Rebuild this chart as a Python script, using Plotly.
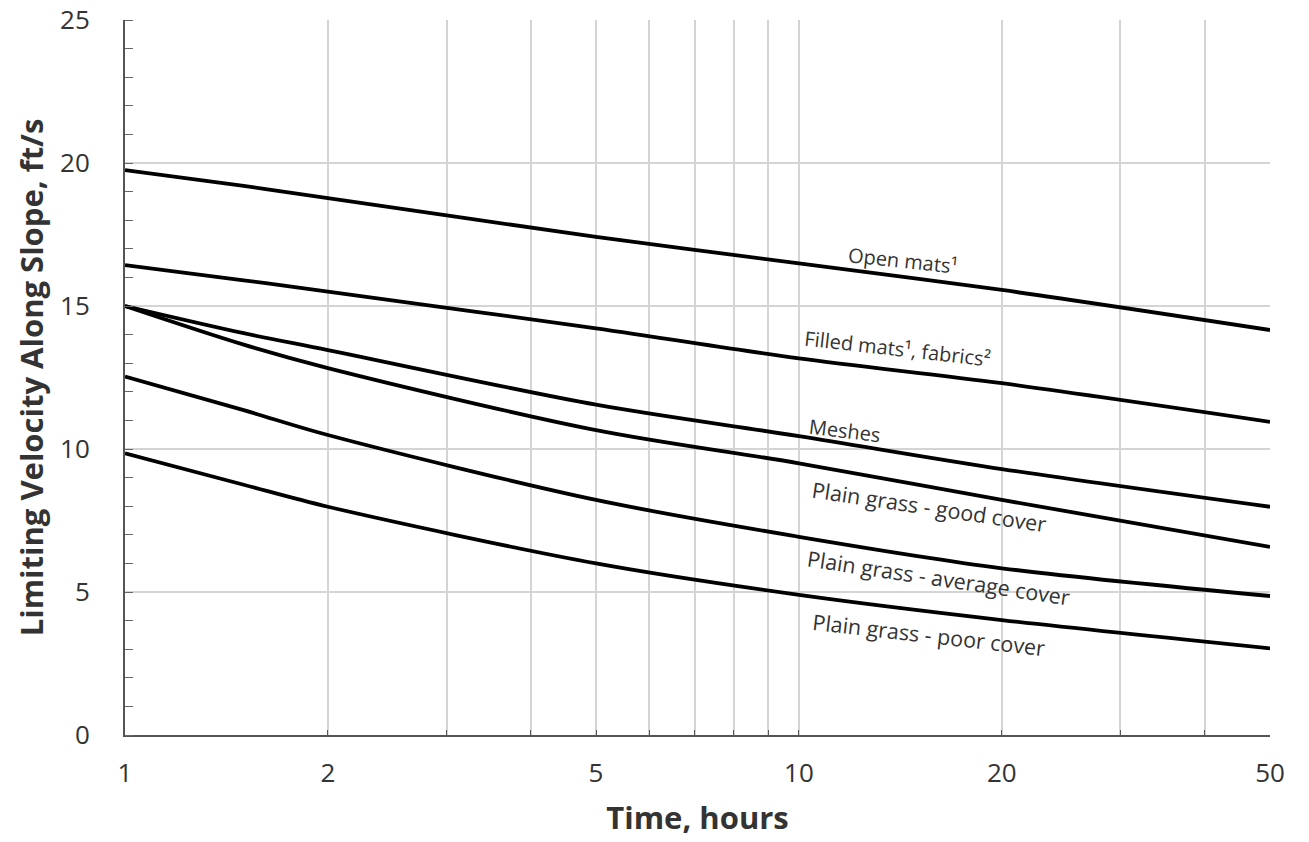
import math
import plotly.graph_objects as go

# Time, hours
time_h = [1, 1.5, 2, 5, 10, 20, 50]

open_mats = [19.75, 19.2, 18.77, 17.42, 16.49, 15.56, 14.16]
filled_mats = [16.43, 15.9, 15.5, 14.22, 13.17, 12.30, 10.95]
meshes = [15.0, 14.05, 13.46, 11.55, 10.45, 9.3, 7.98]
grass_good = [15.0, 13.65, 12.83, 10.66, 9.5, 8.22, 6.58]
grass_average = [12.53, 11.36, 10.49, 8.22, 6.93, 5.83, 4.86]
grass_poor = [9.85, 8.75, 7.98, 6.0, 4.90, 4.02, 3.03]

series = [
    ("Open mats¹", open_mats),
    ("Filled mats¹, fabrics²", filled_mats),
    ("Meshes", meshes),
    ("Plain grass - good cover", grass_good),
    ("Plain grass - average cover", grass_average),
    ("Plain grass - poor cover", grass_poor),
]

# label anchors (x in hours, y in ft/s), text angles and sizes
label_x = [14.27, 14.0, 11.7, 15.6, 16.1, 15.6]
label_y = [16.6, 13.5, 10.66, 8.0, 5.5, 3.5]
label_angle = [6, 6.5, 7, 8.5, 8.5, 6.5]
label_size = [20, 20, 20, 21.5, 21.5, 21.5]

x_tickvals = [1, 2, 3, 4, 5, 6, 7, 8, 9, 10, 20, 30, 40, 50]
x_ticktext = ["1", "2", "", "", "5", "", "", "", "", "10", "20", "", "", "50"]
y_tickvals = [0, 5, 10, 15, 20, 25]

FONT = "Open Sans"
TXT = "#333"

fig = go.Figure()
for name, vals in series:
    fig.add_trace(go.Scatter(
        x=time_h, y=vals, mode="lines", name=name,
        line=dict(color="black", width=3.8, shape="spline", smoothing=0.9),
        showlegend=False,
    ))

for (name, _), lx, ly, ang, sz in zip(series, label_x, label_y, label_angle, label_size):
    fig.add_annotation(
        x=math.log10(lx), y=ly, xref="x", yref="y", text=name, showarrow=False,
        textangle=ang, font=dict(size=sz, color=TXT, family=FONT),
    )

fig.update_layout(
    width=1309, height=842,
    margin=dict(l=125, r=39, t=20, b=107),
    plot_bgcolor="white", paper_bgcolor="white",
    font=dict(family=FONT, color=TXT),
)
fig.update_xaxes(
    type="log", range=[0, math.log10(50)],
    tickvals=x_tickvals, ticktext=x_ticktext,
    showgrid=True, gridcolor="#d4d4d4", gridwidth=1.5,
    showline=True, linecolor="#555", linewidth=2,
    ticks="inside", ticklen=5, tickcolor="#555",
    ticklabelstandoff=14,
    tickfont=dict(size=26, color=TXT, family=FONT),
    title=dict(text="<b>Time, hours</b>", font=dict(size=31, color=TXT, family=FONT), standoff=18),
    zeroline=False, automargin=False,
)
fig.update_yaxes(
    range=[0, 25], tickvals=y_tickvals,
    showgrid=True, gridcolor="#d4d4d4", gridwidth=1.5,
    showline=True, linecolor="#555", linewidth=2,
    ticks="", ticklen=0,
    ticklabelstandoff=28,
    minor=dict(dtick=1, ticks="inside", ticklen=8, tickcolor="#666", showgrid=False),
    tickfont=dict(size=26, color=TXT, family=FONT),
    title=dict(text="<b>Limiting Velocity Along Slope, ft/s</b>", font=dict(size=31, color=TXT, family=FONT), standoff=7),
    zeroline=False, automargin=False,
)

fig.write_html("out.html")
